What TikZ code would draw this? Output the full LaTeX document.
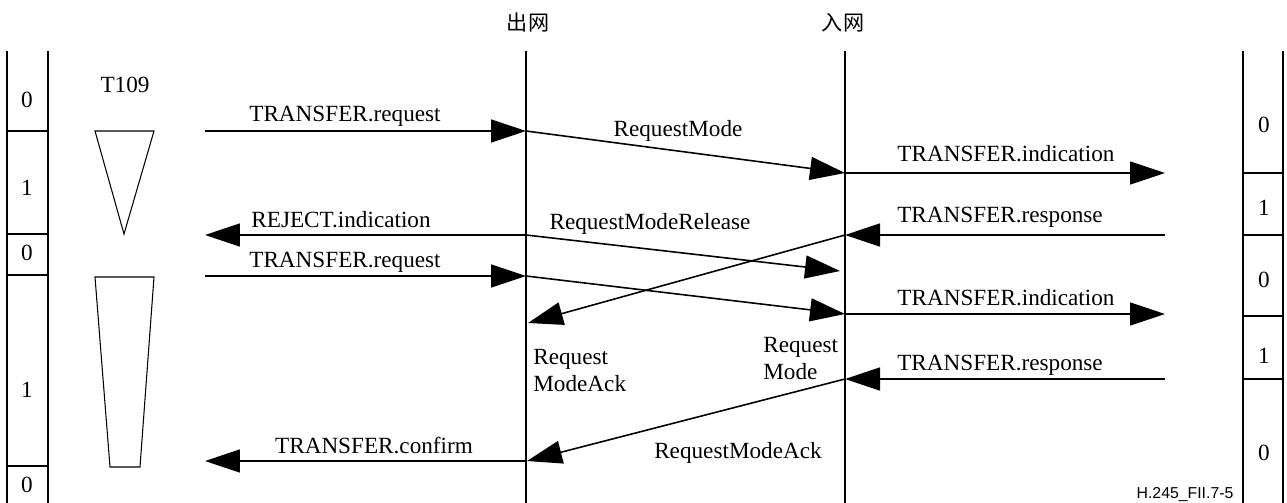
\documentclass[tikz,border=0pt]{standalone}
\usepackage{fontspec}
\setmainfont{Liberation Serif}
\newfontfamily\cjkfont{Noto Sans CJK SC}
\newfontfamily\tagfont{Liberation Sans}
\usetikzlibrary{arrows.meta}

\begin{document}
\begin{tikzpicture}[
    x=0.02cm, y=-0.02cm,
    lbl/.style={inner sep=0pt, anchor=base, font=\fontsize{13.2}{15.5}\selectfont},
    lbltwo/.style={lbl, anchor=north west, align=left},
    msg/.style={-{Triangle[length=0.7cm, width=0.46cm]}, line width=0.9pt},
    life/.style={line width=0.6pt},
    timer/.style={line width=0.6pt}
]
\useasboundingbox (0,0) rectangle (1287,503);

% Lifelines
\node[lbl, font=\cjkfont\fontsize{12}{14}\selectfont] (outnet) at (528,31) {出网};
\node[lbl, font=\cjkfont\fontsize{12}{14}\selectfont] (innet) at (843,31) {入网};
\draw[life] (526,51) -- (526,503);
\draw[life] (845,51) -- (845,503);

% Left state column
\draw[life] (7,51) -- (7,503) (48,51) -- (48,503);
\foreach \y in {131,234,275,466}
    \draw[life] (7,\y) -- (48,\y);
\foreach \y/\v [count=\i] in {108/0,195/1,260/0,397/1,492/0}
    \node[lbl] (sl\i) at (27,\y) {\v};

% Right state column
\draw[life] (1243,51) -- (1243,503);
\draw[line width=1pt] (1283,51) -- (1283,503);
\foreach \y in {173,235,316,379}
    \draw[life] (1243,\y) -- (1283,\y);
\foreach \y/\v [count=\i] in {133/0,215/1,287/0,363/1,460/0}
    \node[lbl] (sr\i) at (1264,\y) {\v};

% Timer T109
\node[lbl] (t109) at (125,93) {T109};
\draw[timer] (95,131) -- (154,131) -- (124,234) -- cycle;
\draw[timer] (95,277) -- (154,277) -- (140,467) -- (110,467) -- cycle;

% Message end points
\coordinate (a1) at (205,131);
\coordinate (a2) at (205,235);
\coordinate (a3) at (205,276);
\coordinate (a4) at (205,461);
\coordinate (o1) at (526,131);
\coordinate (o2) at (526,235);
\coordinate (o3) at (526,276);
\coordinate (o4) at (528,323);
\coordinate (o5) at (527,461);
\coordinate (i1) at (845,173);
\coordinate (i2) at (845,235);
\coordinate (i3) at (840,271);
\coordinate (i4) at (845,314);
\coordinate (i5) at (845,379);
\coordinate (b1) at (1165,173);
\coordinate (b2) at (1165,235);
\coordinate (b3) at (1165,314);
\coordinate (b4) at (1165,379);

% First transfer (rejected)
\draw[msg] (a1) -- (o1);
\node[lbl] (reqa) at (345,122) {TRANSFER.request};
\draw[msg] (o1) -- (i1);
\node[lbl] (rma) at (678,137) {RequestMode};
\draw[msg] (i1) -- (b1);
\node[lbl] (inda) at (1006,162) {TRANSFER.indication};
\draw[msg] (b2) -- (i2);
\node[lbl] (respa) at (1000,222) {TRANSFER.response};
\draw[msg] (o2) -- (a2);
\node[lbl] (rej) at (341,227) {REJECT.indication};
\draw[msg] (o2) -- (i3);
\node[lbl] (rmr) at (650,230) {RequestModeRelease};
\draw[msg] (i2) -- (o4);
\node[lbltwo] (acka) at (533,349) {Request\\ModeAck};

% Second transfer (confirmed)
\draw[msg] (a3) -- (o3);
\node[lbl] (reqb) at (345,267) {TRANSFER.request};
\draw[msg] (o3) -- (i4);
\node[lbltwo] (rmb) at (763,337) {Request\\Mode};
\draw[msg] (i4) -- (b3);
\node[lbl] (indb) at (1006,305) {TRANSFER.indication};
\draw[msg] (b4) -- (i5);
\node[lbl] (respb) at (1000,370) {TRANSFER.response};
\draw[msg] (i5) -- (o5);
\node[lbl] (ackb) at (738,458) {RequestModeAck};
\draw[msg] (o5) -- (a4);
\node[lbl] (conf) at (374,453) {TRANSFER.confirm};

\node[lbl, font=\tagfont\fontsize{9}{11}\selectfont] (figtag) at (1185,498) {H.245\_FII.7-5};
\end{tikzpicture}
\end{document}
